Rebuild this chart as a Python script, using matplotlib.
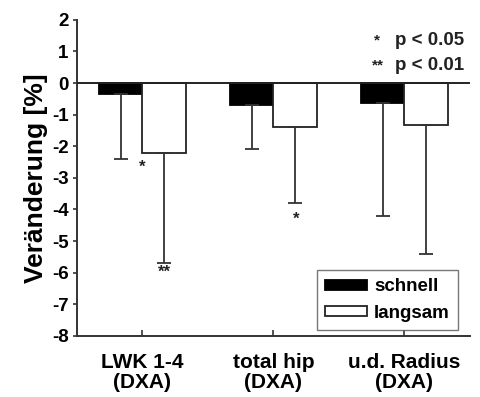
import numpy as np
import matplotlib
matplotlib.use("Agg")
import matplotlib.pyplot as plt

plt.rcParams["font.family"] = ["Liberation Sans", "DejaVu Sans"]

# Data
regions = ["LWK 1-4\n(DXA)", "total hip\n(DXA)", "u.d. Radius\n(DXA)"]
schnell = [-0.35, -0.7, -0.62]
schnell_err = [2.05, 1.4, 3.58]
langsam = [-2.2, -1.4, -1.32]
langsam_err = [3.5, 2.4, 4.08]
yticks = [2, 1, 0, -1, -2, -3, -4, -5, -6, -7, -8]

# significance marks: (group index, offset, y, text)
sig_marks = [(0, 0.0, -2.65, "*"), (0, 0.17, -6.0, "**"), (1, 0.17, -4.3, "*")]

fig = plt.figure(figsize=(4.81, 3.97), dpi=100)
ax = fig.add_axes([0.160, 0.154, 0.817, 0.796])

x = np.arange(len(regions))
w = 0.33
err_kw = dict(ecolor="#333333", elinewidth=1.3, capsize=5, capthick=1.3)

ax.bar(x - w/2, schnell, w, color="black", edgecolor="black", linewidth=1.3,
       yerr=[schnell_err, np.zeros(3)], error_kw=err_kw, label="schnell", zorder=3)
ax.bar(x + w/2, langsam, w, color="white", edgecolor="#222222", linewidth=1.3,
       yerr=[langsam_err, np.zeros(3)], error_kw=err_kw, label="langsam", zorder=3)

ax.axhline(0, color="#222222", linewidth=1.4, zorder=4)

for gi, off, yy, txt in sig_marks:
    ax.text(gi + off, yy, txt, ha="center", va="center", fontsize=12,
            fontweight="bold", color="#222222")

ax.text(0.755, 0.935, "*", transform=ax.transAxes, fontsize=11, fontweight="bold",
        ha="left", va="center", color="#222222")
ax.text(0.985, 0.935, "p < 0.05", transform=ax.transAxes, fontsize=13.5, fontweight="bold",
        ha="right", va="center", color="#222222")
ax.text(0.75, 0.855, "**", transform=ax.transAxes, fontsize=11, fontweight="bold",
        ha="left", va="center", color="#222222")
ax.text(0.985, 0.855, "p < 0.01", transform=ax.transAxes, fontsize=13.5, fontweight="bold",
        ha="right", va="center", color="#222222")

ax.set_xlim(-0.5, 2.5)
ax.set_ylim(-8, 2)
ax.set_yticks(yticks)
ax.set_yticklabels([str(t) for t in yticks], fontsize=13.5, fontweight="bold")
ax.set_xticks(x)
ax.set_xticklabels(regions, fontsize=15, fontweight="bold", linespacing=1.1)
ax.set_ylabel("Veränderung [%]", fontsize=19, fontweight="bold", labelpad=3)

for s in ["top", "right"]:
    ax.spines[s].set_visible(False)
for s in ["left", "bottom"]:
    ax.spines[s].set_linewidth(1.4)
    ax.spines[s].set_color("#333333")
ax.tick_params(axis="y", direction="out", length=3, width=1.2, color="#333333", pad=3)
ax.tick_params(axis="x", direction="in", length=4, width=1.2, color="#333333", pad=12)

leg = ax.legend(loc="lower right", bbox_to_anchor=(0.985, 0.0),
                prop={"weight": "bold", "size": 13.5}, fancybox=False, edgecolor="#555555",
                handlelength=2.2, handleheight=0.45, handletextpad=0.4,
                borderpad=0.45, labelspacing=0.5, borderaxespad=0.3)
leg.get_frame().set_linewidth(1.0)

fig.savefig("out.png", dpi=100)
